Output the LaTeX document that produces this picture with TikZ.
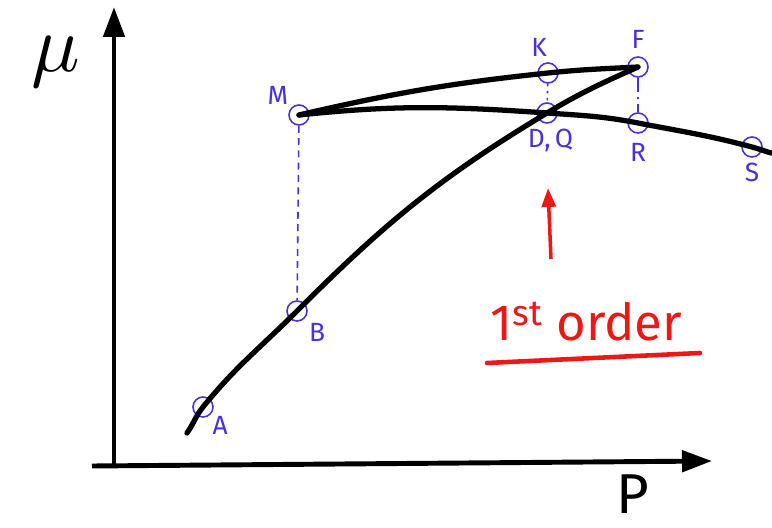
\documentclass[tikz,border=0pt]{standalone}
\usepackage{fontspec}
\setmainfont{Fira Sans}
\usetikzlibrary{arrows.meta,positioning}
\definecolor{ink}{RGB}{72,48,222}
\definecolor{marker}{RGB}{235,25,22}

\begin{document}
\begin{tikzpicture}[x=0.02cm, y=0.02cm,
        pt/.style={circle, draw=ink, line width=0.9pt, minimum size=0.4cm, inner sep=0pt},
        lbl/.style={text=ink, font=\fontsize{15}{15}\selectfont, inner sep=1pt},
        curve/.style={line width=3pt, line cap=round},
        axis/.style={line width=2.8pt, -{Triangle[length=0.6cm,width=0.42cm]}},
        guide/.style={draw=ink, line width=0.9pt}]
    \useasboundingbox (0,0) rectangle (772,528);

    % axes
    \coordinate (y0) at (114,61);
    \coordinate (y1) at (114,521);
    \coordinate (x0) at (92,62);
    \coordinate (x1) at (712,67);
    \draw[axis] (y0) -- (y1);
    \draw[axis] (x0) -- (x1);
    \node[scale=4.6, inner sep=0pt] (mu) at (56,466) {$\mu$};
    \node[anchor=base, inner sep=0pt] (p) at (633,14) {\fontsize{32}{32}\selectfont P};

    % states
    \node[pt, label={[lbl]below right:A}] (A) at (203,121) {};
    \node[pt, label={[lbl, label distance=2pt]below right:B}] (B) at (297,217) {};
    \node[pt, label={[lbl, label distance=1pt]above left:M}] (M) at (299,413) {};
    \node[pt, label={[lbl, xshift=-5pt, label distance=2pt]above:K}] (K) at (548,455) {};
    \node[pt, label={[lbl, xshift=2pt, label distance=2pt]below:{D,\,Q}}] (D) at (547,415) {};
    \node[pt, label={[lbl, label distance=3pt]above:F}] (F) at (638,461) {};
    \node[pt, label={[lbl, label distance=4pt]below:R}] (R) at (638,405) {};
    \node[pt, label={[lbl, label distance=2pt]below:S}] (S) at (752,381) {};
    \coordinate (lend) at (187,95);
    \coordinate (gend) at (771,375);

    % branches
    \draw[curve] (lend) to[out=55,in=231] (A.center) to[out=51,in=225] (B.center)
        to[out=45,in=211] (D.center) to[out=31,in=204] (F.center);
    \draw[curve] (M.center) to[out=13,in=186] (K.center) to[out=6,in=183] (F.center);
    \draw[curve] (M.center) to[out=6,in=176] (D.center) to[out=-4,in=169] (R.center)
        to[out=-11,in=165] (S.center) to[out=-15,in=163] (gend);

    % tie lines
    \draw[guide, dash pattern=on 4pt off 3pt] (M) -- (B);
    \draw[guide, dash pattern=on 1.5pt off 2.5pt] (K) -- (D);
    \draw[guide, dash pattern=on 8pt off 3pt on 1pt off 3pt] (F) -- (R);

    % annotation
    \coordinate (tail) at (551,269);
    \coordinate (tip) at (548,340);
    \draw[marker, line width=2pt, -{Triangle[length=0.38cm,width=0.28cm]}] (tail) -- (tip);
    \node[text=marker, anchor=base west, inner sep=0pt] (order) at (490,187)
        {\fontsize{29}{29}\selectfont 1\textsuperscript{st} order};
    \coordinate (u0) at (487,165);
    \coordinate (u1) at (700,175);
    \draw[marker, line width=2.6pt, line cap=round] (u0) -- (u1);
\end{tikzpicture}
\end{document}
